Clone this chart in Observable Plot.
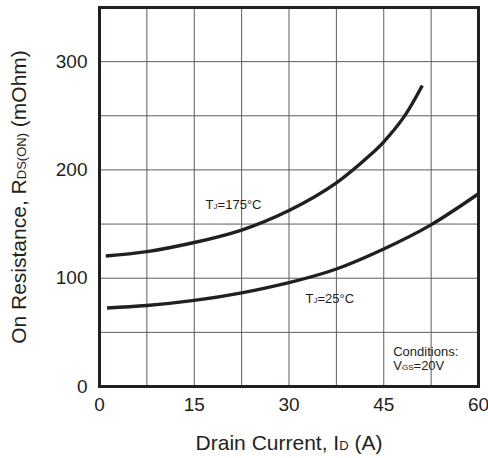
<!DOCTYPE html>
<html>
<head>
<meta charset="utf-8">
<script src="https://cdn.jsdelivr.net/npm/d3@7"></script>
<script src="https://cdn.jsdelivr.net/npm/@observablehq/plot@0.6"></script>
<style>
  body { margin: 0; background: #fff; }
  #chart svg { display: block; }
</style>
</head>
<body>
<div id="chart"></div>
<script>
// On-resistance vs. drain current, VGS = 20 V
const current175 = [1, 7.5, 15, 22.5, 30, 37.5, 42.9, 45, 48.2, 51.1];
const res175     = [120.5, 124.5, 133, 144.5, 162.5, 188, 214, 226, 249, 278];
const current25  = [1.2, 7.5, 15, 22.5, 30, 37.5, 45, 52.4, 60];
const res25      = [72.5, 74.8, 79.5, 86.5, 96, 108.5, 127, 149, 178];

const xTicks = [0, 15, 30, 45, 60];
const yTicks = [0, 100, 200, 300];
const xGrid = [7.5, 15, 22.5, 30, 37.5, 45, 52.5];
const yGrid = [50, 100, 150, 200, 250, 300];

// "_{...}" marks a subscript run
const xTitle = "Drain Current, I_{D} (A)";
const yTitle = "On Resistance, R_{DS(ON)} (mOhm)";
const label175 = "T_{J}=175°C";
const label25 = "T_{J}=25°C";
const conditions = "Conditions:\nV_{GS}=20V";

const ink = "#231f20";
const series175 = current175.map((x, i) => ({x, y: res175[i]}));
const series25 = current25.map((x, i) => ({x, y: res25[i]}));

const chart = Plot.plot({
  width: 488,
  height: 458,
  marginLeft: 99,
  marginRight: 10,
  marginTop: 7,
  marginBottom: 72,
  style: {fontFamily: "'Liberation Sans', Arial, sans-serif", color: ink, background: "#fff"},
  x: {domain: [0, 60]},
  y: {domain: [0, 350]},
  marks: [
    Plot.ruleX(xGrid, {stroke: "#5c5c5c", strokeWidth: 1}),
    Plot.ruleY(yGrid, {stroke: "#5c5c5c", strokeWidth: 1}),
    Plot.axisX(xTicks, {tickSize: 0, tickPadding: 11, fontSize: 19, label: null}),
    Plot.axisY(yTicks, {tickSize: 0, tickPadding: 12, fontSize: 19, label: null}),
    Plot.line(series175, {x: "x", y: "y", curve: "natural", stroke: ink, strokeWidth: 3.4, strokeLinecap: "butt"}),
    Plot.line(series25, {x: "x", y: "y", curve: "natural", stroke: ink, strokeWidth: 3.4, strokeLinecap: "butt"}),
    Plot.frame({stroke: ink, strokeWidth: 3}),
    Plot.text([label175], {x: 16.8, y: 167.6, textAnchor: "start", fontSize: 13, fill: ink}),
    Plot.text([label25], {x: 32.6, y: 81, textAnchor: "start", fontSize: 13, fill: ink}),
    Plot.text([conditions], {x: 46.5, y: 25.5, textAnchor: "start", fontSize: 13, lineHeight: 1.05, fill: ink}),
    Plot.text([xTitle], {frameAnchor: "bottom", textAnchor: "middle", dy: 63, fontSize: 21, fill: ink}),
    Plot.text([yTitle], {frameAnchor: "left", textAnchor: "middle", dx: -80, rotate: -90, fontSize: 21, fill: ink})
  ]
});

// Turn "_{...}" runs into smaller tspans sitting on the baseline
chart.querySelectorAll("text, tspan").forEach(el => {
  if (el.children.length) return;
  const s = el.textContent;
  if (!s.includes("_{")) return;
  el.textContent = "";
  s.split(/(_\{[^}]*\})/).forEach(part => {
    if (!part) return;
    const t = document.createElementNS("http://www.w3.org/2000/svg", "tspan");
    if (part.startsWith("_{")) {
      t.textContent = part.slice(2, -1);
      t.setAttribute("font-size", "0.62em");
    } else {
      t.textContent = part;
    }
    el.appendChild(t);
  });
});

document.getElementById("chart").appendChild(chart);
</script>
</body>
</html>
